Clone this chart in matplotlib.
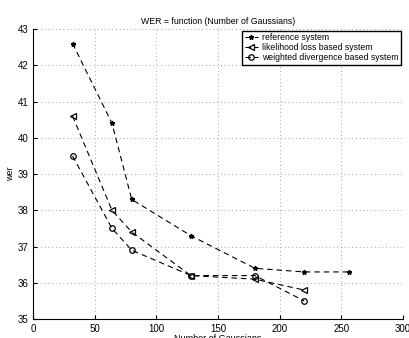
import matplotlib.pyplot as plt
import numpy as np

x_ref = [32, 64, 80, 128, 180, 220, 256]
y_ref = [42.6, 40.4, 38.3, 37.3, 36.4, 36.3, 36.3]
x_lik = [32, 64, 80, 128, 180, 220]
y_lik = [40.6, 38.0, 37.4, 36.2, 36.1, 35.8]
x_wd = [32, 64, 80, 128, 180, 220]
y_wd = [39.5, 37.5, 36.9, 36.2, 36.2, 35.5]

plt.rcParams['font.family'] = ['Liberation Sans', 'DejaVu Sans']
fig = plt.figure(figsize=(4.09, 3.38), dpi=100)
ax = fig.add_axes([0.081, 0.056, 0.904, 0.858])

dash = (0, (5, 3.5))
ax.plot(x_ref, y_ref, color='black', linestyle=dash, linewidth=0.8, marker='*',
        markersize=3.5, label='reference system')
ax.plot(x_lik, y_lik, color='black', linestyle=dash, linewidth=0.8, marker='<',
        markersize=4.5, markerfacecolor='none', markeredgewidth=0.9,
        label='likelihood loss based system')
ax.plot(x_wd, y_wd, color='black', linestyle=dash, linewidth=0.8, marker='o',
        markersize=4, markerfacecolor='none', markeredgewidth=0.9,
        label='weighted divergence based system')

ax.set_xlim(0, 300)
ax.set_ylim(35, 43)
ax.set_xticks(np.arange(0, 301, 50))
ax.set_yticks(np.arange(35, 44, 1))
ax.grid(True, linestyle=(0, (1, 3.5)), linewidth=0.6, color='#888888')
ax.tick_params(direction='in', labelsize=7, length=3)
ax.spines['top'].set_visible(False)
ax.spines['right'].set_visible(False)
ax.set_title('WER = function (Number of Gaussians)', fontsize=6.3, pad=4)
ax.set_xlabel('Number of Gaussians', fontsize=6.5, labelpad=0)
ax.set_ylabel('wer', fontsize=6.5, labelpad=2)

leg = ax.legend(loc='upper right', fontsize=6.2, fancybox=False, framealpha=1,
                edgecolor='black', borderpad=0.3, labelspacing=0.1, handlelength=1.5,
                handletextpad=0.5, borderaxespad=0.2)
leg.get_frame().set_linewidth(1.0)

fig.savefig('out.png', dpi=100)
